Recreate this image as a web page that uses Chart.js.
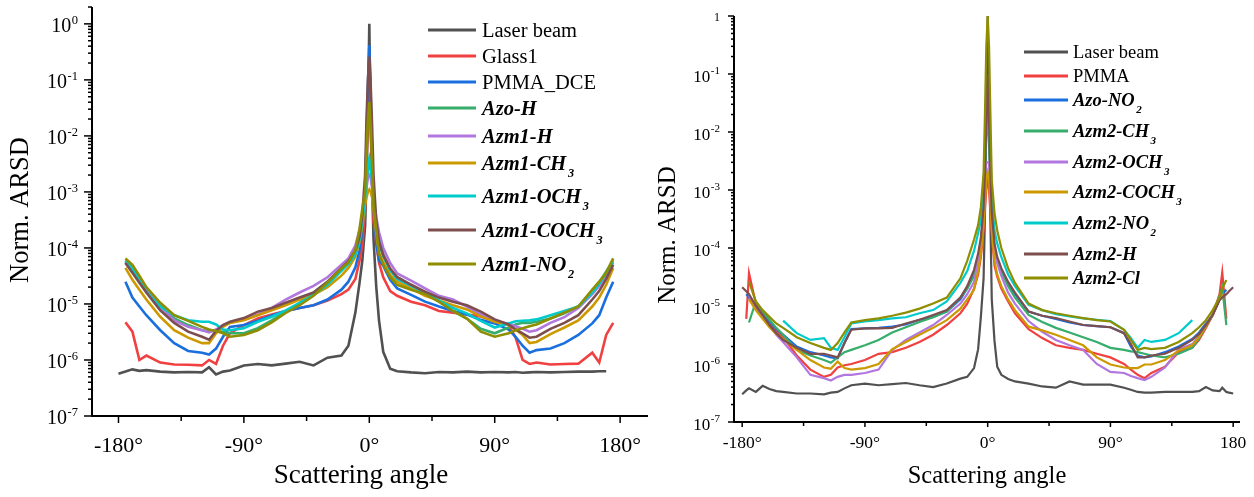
<!DOCTYPE html>
<html>
<head>
<meta charset="utf-8">
<script src="https://cdn.jsdelivr.net/npm/chart.js@4.4.1/dist/chart.umd.min.js"></script>
<style>
  body { margin: 0; background: #fff; }
  #wrap { position: relative; width: 1254px; height: 497px; overflow: hidden; background: #fff; }
  canvas { position: absolute; top: 0; }
  #leftChart { left: 0; }
  #rightChart { left: 640px; }
</style>
</head>
<body>
<div id="wrap">
  <canvas id="leftChart" width="660" height="497"></canvas>
  <canvas id="rightChart" width="614" height="497"></canvas>
</div>
<script>
const SERIF = "'Liberation Serif', 'Times New Roman', serif";
const COLORS = ['#515151', '#F14040', '#1A6FDF', '#37AD6B', '#B177DE', '#CC9900', '#00CBCC', '#7D4E4E', '#8E8E00'];

// ---- left panel: scattering angle (deg) and normalised ARSD ----
const leftAngles = [-180,-175,-170,-165,-160,-150,-140,-130,-120,-115,-110,-105,-100,
  -90,-80,-70,-60,-50,-40,-30,-20,
  -15,-10,-7,-5,-3,-2,-1,
  0,
  1,2,3,5,7,10,15,20,
  30,40,50,60,70,80,90,
  100,105,110,115,120,
  130,140,150,160,165,170,175];
const leftNames = ['Laser beam', 'Glass1', 'PMMA_DCE', 'Azo-H', 'Azm1-H', 'Azm1-CH₃', 'Azm1-OCH₃', 'Azm1-COCH₃', 'Azm1-NO₂'];

const laserL = [5.7e-7, 6.2e-7, 6.8e-7, 6.4e-7, 6.6e-7, 6.2e-7, 6.0e-7, 6.1e-7, 6.0e-7, 7.4e-7, 5.5e-7, 6.2e-7, 6.5e-7,
  8.0e-7, 8.5e-7, 8.0e-7, 8.6e-7, 9.3e-7, 8.0e-7, 1.1e-6, 1.2e-6,
  1.8e-6, 7e-6, 2.4e-5, 6e-5, 2.5e-4, 2e-3, 2e-2,
  1.0,
  1.5e-2, 1.5e-3, 1.5e-4, 2e-5, 5e-6, 1.4e-6, 7e-7, 6.3e-7,
  6.0e-7, 5.8e-7, 6.1e-7, 6.0e-7, 6.2e-7, 6.0e-7, 6.1e-7,
  6.0e-7, 6.1e-7, 5.9e-7, 6.0e-7, 6.1e-7,
  6.0e-7, 6.1e-7, 6.2e-7, 6.2e-7, 6.3e-7, 6.3e-7, null];
const glassL = [null, 4.7e-6, 3.2e-6, 1.0e-6, 1.2e-6, 9.0e-7, 8.3e-7, 8.2e-7, 8.0e-7, 1.0e-6, 8.5e-7, 1.8e-6, 3.0e-6,
  4.2e-6, 5.5e-6, 6.5e-6, 7.5e-6, 8.5e-6, 9.5e-6, 1.15e-5, 1.5e-5,
  1.8e-5, 2.8e-5, 6e-5, 1.1e-4, 5e-4, 3e-3, 3e-2,
  0.3,
  2e-2, 2e-3, 3e-4, 1.2e-4, 5.4e-5, 3e-5, 1.7e-5, 1.4e-5,
  1.1e-5, 9.5e-6, 7.5e-6, 7e-6, 6.5e-6, 6e-6, 5e-6,
  4.2e-6, 2.5e-6, 1.0e-6, 8.5e-7, 9e-7,
  8.3e-7, 8.5e-7, 8.6e-7, 1.35e-6, 9e-7, 2.8e-6, 4.6e-6];
const pmmaDceL = [null, 2.5e-5, 1.3e-5, 9e-6, 6.3e-6, 3.4e-6, 2.0e-6, 1.45e-6, 1.35e-6, 1.25e-6, 1.6e-6, 2.6e-6, 3.9e-6,
  4.2e-6, 5.0e-6, 6.2e-6, 7.5e-6, 8.5e-6, 9.5e-6, 1.2e-5, 1.8e-5,
  2.5e-5, 4.5e-5, 9e-5, 2e-4, 1e-3, 8e-3, 8e-2,
  0.42,
  5e-2, 5e-3, 5e-4, 1.2e-4, 6e-5, 4.8e-5, 2.7e-5, 1.9e-5,
  1.45e-5, 1.1e-5, 9e-6, 7.5e-6, 6.5e-6, 5.2e-6, 4.5e-6,
  3.5e-6, 2.6e-6, 1.8e-6, 1.35e-6, 1.5e-6,
  1.6e-6, 2.0e-6, 2.8e-6, 4.5e-6, 6.3e-6, 1.3e-5, 2.5e-5];
const azoHL = [null, 6e-5, 4.4e-5, 2.8e-5, 1.9e-5, 9.5e-6, 5.5e-6, 4.2e-6, 3.4e-6, 3.3e-6, 3.3e-6, 3.2e-6, 3.0e-6,
  3.0e-6, 3.7e-6, 5.1e-6, 7.3e-6, 1.05e-5, 1.6e-5, 2.5e-5, 4.1e-5,
  5.5e-5, 8e-5, 1.5e-4, 3e-4, 8e-4, 1.5e-3, 2.5e-3,
  3e-3,
  2.5e-3, 1.5e-3, 6e-4, 2.5e-4, 1.2e-4, 7e-5, 4e-5, 3e-5,
  2.2e-5, 1.55e-5, 1.1e-5, 7.5e-6, 5.5e-6, 3.6e-6, 3.0e-6,
  3.8e-6, 4.3e-6, 4.6e-6, 4.6e-6, 4.8e-6,
  5.5e-6, 6.8e-6, 9e-6, 1.7e-5, 2.4e-5, 3.8e-5, 6e-5];
const azm1HL = [null, 5.5e-5, 3.8e-5, 2.6e-5, 1.8e-5, 9e-6, 5.1e-6, 3.9e-6, 3.4e-6, 3.1e-6, 3.5e-6, 4.2e-6, 4.6e-6,
  5.3e-6, 6.5e-6, 8.5e-6, 1.2e-5, 1.6e-5, 2.1e-5, 3e-5, 5e-5,
  6.5e-5, 1.1e-4, 2.1e-4, 3.5e-4, 8e-4, 1.2e-3, 1.8e-3,
  2e-3,
  1.8e-3, 1.2e-3, 7e-4, 3.5e-4, 1.9e-4, 1e-4, 5.4e-5, 3.5e-5,
  2.6e-5, 1.9e-5, 1.4e-5, 1.2e-5, 9e-6, 6.5e-6, 5e-6,
  4.4e-6, 4e-6, 3.6e-6, 3.2e-6, 3.4e-6,
  4.6e-6, 5.8e-6, 8.5e-6, 1.5e-5, 2.1e-5, 3.3e-5, 5.5e-5];
const azm1CH3L = [null, 4.4e-5, 2.7e-5, 1.8e-5, 1.2e-5, 5.9e-6, 3.4e-6, 2.5e-6, 2.0e-6, 2.0e-6, 3.0e-6, 3.9e-6, 4.6e-6,
  5.1e-6, 6.3e-6, 7.7e-6, 9.5e-6, 1.2e-5, 1.45e-5, 2e-5, 3.2e-5,
  4.4e-5, 7e-5, 1.3e-4, 2.5e-4, 6e-4, 8e-4, 1e-3,
  1.1e-3,
  1e-3, 8e-4, 5e-4, 1.8e-4, 8e-5, 5.5e-5, 3.3e-5, 2.5e-5,
  1.9e-5, 1.4e-5, 1.15e-5, 9.5e-6, 8e-6, 6e-6, 4.8e-6,
  4.2e-6, 3.5e-6, 2.8e-6, 2.0e-6, 2.1e-6,
  2.9e-6, 3.8e-6, 5.1e-6, 9e-6, 1.3e-5, 2.2e-5, 4.4e-5];
const azm1OCH3L = [null, 5.8e-5, 4.2e-5, 2.6e-5, 1.65e-5, 9e-6, 6.3e-6, 5.1e-6, 4.8e-6, 4.8e-6, 4.3e-6, 3.5e-6, 3.4e-6,
  3.7e-6, 4.8e-6, 5.9e-6, 7.7e-6, 1.05e-5, 1.45e-5, 2.2e-5, 3.9e-5,
  5.2e-5, 7.6e-5, 1.4e-4, 3e-4, 8e-4, 1.5e-3, 3e-3,
  4e-3,
  3e-3, 1.5e-3, 7e-4, 2.5e-4, 1.3e-4, 7.5e-5, 4e-5, 2.8e-5,
  2.1e-5, 1.6e-5, 1.15e-5, 8.5e-6, 6.8e-6, 5e-6, 3.8e-6,
  4.5e-6, 4.9e-6, 5e-6, 5.1e-6, 5.3e-6,
  6.3e-6, 7.5e-6, 9e-6, 1.6e-5, 2.3e-5, 3.6e-5, 5.5e-5];
const azm1COCH3L = [null, 5.4e-5, 3.6e-5, 2.4e-5, 1.6e-5, 7.7e-6, 4.6e-6, 3.2e-6, 2.6e-6, 2.3e-6, 3.3e-6, 4.2e-6, 4.8e-6,
  5.6e-6, 7.3e-6, 8.5e-6, 1.05e-5, 1.3e-5, 1.6e-5, 2.5e-5, 4.4e-5,
  5.8e-5, 9e-5, 1.6e-4, 4e-4, 2e-3, 2e-2, 0.1,
  0.26,
  8e-2, 1.5e-2, 2e-3, 3e-4, 1.3e-4, 7.5e-5, 4.3e-5, 3e-5,
  2.2e-5, 1.65e-5, 1.3e-5, 1.1e-5, 9.5e-6, 7.3e-6, 5.3e-6,
  4.3e-6, 3.5e-6, 3e-6, 2.5e-6, 2.6e-6,
  3.6e-6, 4.6e-6, 6.3e-6, 1.2e-5, 1.7e-5, 2.8e-5, 5e-5];
const azm1NO2L = [null, 6.5e-5, 5e-5, 3.2e-5, 2e-5, 1.05e-5, 6.3e-6, 5e-6, 3.9e-6, 3.5e-6, 3.3e-6, 3.0e-6, 2.6e-6,
  2.8e-6, 3.4e-6, 4.7e-6, 6.9e-6, 9.5e-6, 1.4e-5, 2.4e-5, 4.3e-5,
  5.5e-5, 9e-5, 2.2e-4, 5e-4, 1e-3, 5e-3, 2e-2,
  4e-2,
  1.5e-2, 3e-3, 6e-4, 2.1e-4, 8e-5, 5e-5, 3e-5, 2.2e-5,
  1.8e-5, 1.5e-5, 1.1e-5, 7.5e-6, 5.5e-6, 3.2e-6, 2.6e-6,
  3.0e-6, 3.4e-6, 3.7e-6, 4e-6, 4.3e-6,
  5.5e-6, 7e-6, 9e-6, 1.8e-5, 2.5e-5, 3.6e-5, 6.5e-5];

// ---- right panel ----
const rightAngles = [-180,-177,-175,-170,-165,-160,-155,-150,
  -140,-130,-120,-115,-110,-105,-100,
  -90,-80,-70,-60,-50,-40,-30,-20,
  -15,-10,-7,-5,-3,-2,-1,
  0,
  1,2,3,5,7,10,15,20,
  30,40,50,60,70,80,90,
  100,105,110,115,120,
  130,140,150,155,160,165,170,172,175,177,180];
const rightNames = ['Laser beam', 'PMMA', 'Azo-NO₂', 'Azm2-CH₃', 'Azm2-OCH₃', 'Azm2-COCH₃', 'Azm2-NO₂', 'Azm2-H', 'Azm2-Cl'];

const laserR = [3.0e-7, 3.5e-7, 3.8e-7, 3.3e-7, 4.2e-7, 3.7e-7, 3.4e-7, 3.3e-7,
  3.1e-7, 3.1e-7, 3.0e-7, 3.2e-7, 3.3e-7, 3.8e-7, 4.3e-7,
  4.6e-7, 4.3e-7, 4.5e-7, 4.7e-7, 4.3e-7, 4.0e-7, 4.6e-7, 5.6e-7,
  6e-7, 8.5e-7, 1.8e-6, 6.5e-6, 3e-5, 3.5e-4, 2e-2,
  1.0,
  2e-2, 3e-4, 1.3e-5, 2.5e-6, 9e-7, 6.5e-7, 5.5e-7, 5e-7,
  4.6e-7, 4.1e-7, 3.9e-7, 5e-7, 4.4e-7, 4.4e-7, 4.4e-7,
  3.9e-7, 3.6e-7, 3.3e-7, 3.2e-7, 3.2e-7,
  3.3e-7, 3.3e-7, 3.3e-7, 3.4e-7, 4.0e-7, 3.5e-7, 3.4e-7, 3.9e-7, 3.3e-7, 3.2e-7, 3.1e-7];
const pmmaR = [null, 6e-6, 3.7e-5, 1.1e-5, 7e-6, 5e-6, 3.8e-6, 2.9e-6,
  1.4e-6, 8e-7, 6e-7, 6.5e-7, 8.7e-7, 9.5e-7, 1e-6,
  1.17e-6, 1.5e-6, 1.6e-6, 1.9e-6, 2.4e-6, 3.2e-6, 4.7e-6, 7.5e-6,
  1.1e-5, 2e-5, 3.5e-5, 7e-5, 2e-4, 5e-4, 1e-3,
  2e-3,
  1e-3, 4e-4, 1.8e-4, 5e-5, 3.2e-5, 2e-5, 1.2e-5, 7.5e-6,
  4e-6, 2.8e-6, 2.1e-6, 1.9e-6, 1.75e-6, 1.5e-6, 1.3e-6,
  1e-6, 8e-7, 6.5e-7, 5.7e-7, 7e-7,
  9e-7, 1.6e-6, 1.9e-6, 2.6e-6, 4.2e-6, 7e-6, 1.6e-5, 3.8e-5, 6e-6, null, null];
const azoNO2R = [null, 1.6e-5, 1.4e-5, 9e-6, 7e-6, 5.5e-6, 4e-6, 3.2e-6,
  2e-6, 1.6e-6, 1.4e-6, 1.3e-6, 1.25e-6, 2.3e-6, 4e-6,
  4.1e-6, 4.2e-6, 4.4e-6, 4.8e-6, 5.8e-6, 6.5e-6, 8e-6, 1.3e-5,
  2e-5, 3.5e-5, 7e-5, 1.3e-4, 4e-4, 2e-3, 1e-2,
  5e-2,
  1e-2, 2e-3, 3.5e-4, 1e-4, 6e-5, 4e-5, 2.4e-5, 1.6e-5,
  8e-6, 6.8e-6, 6e-6, 5.2e-6, 4.7e-6, 4.5e-6, 4.3e-6,
  3.4e-6, 2e-6, 1.4e-6, 1.3e-6, 1.35e-6,
  1.6e-6, 2e-6, 2.7e-6, 3.5e-6, 5e-6, 7e-6, 1.3e-5, 1.6e-5, 1.9e-5, null, null];
const azm2CH3R = [null, null, 5.2e-6, 1.2e-5, 8e-6, 5.8e-6, 4.2e-6, 3.2e-6,
  1.75e-6, 1.4e-6, 1.17e-6, 1.05e-6, 1.3e-6, 1.6e-6, 1.75e-6,
  2.1e-6, 2.6e-6, 3.5e-6, 4.3e-6, 5.3e-6, 6.4e-6, 8e-6, 1.4e-5,
  2e-5, 3.3e-5, 6.5e-5, 1.2e-4, 4e-4, 1.5e-3, 8e-3,
  2e-2,
  8e-3, 1.5e-3, 3.5e-4, 1e-4, 6e-5, 3.8e-5, 2.2e-5, 1.4e-5,
  7e-6, 5.3e-6, 4.2e-6, 3.5e-6, 2.9e-6, 2.4e-6, 1.9e-6,
  1.75e-6, 1.65e-6, 1.6e-6, 1.5e-6, 1.4e-6,
  1.3e-6, 1.5e-6, 1.9e-6, 2.8e-6, 4.5e-6, 7e-6, 1.5e-5, 2.1e-5, 4.7e-6, null, null];
const azm2OCH3R = [null, null, 1.5e-5, 9e-6, 6.5e-6, 4.6e-6, 3.2e-6, 2.4e-6,
  1.3e-6, 6.5e-7, 5.7e-7, 5.2e-7, 6e-7, 6.5e-7, 6.5e-7,
  7e-7, 8e-7, 1.75e-6, 2.6e-6, 3.5e-6, 4.7e-6, 7e-6, 1.1e-5,
  1.6e-5, 2.6e-5, 6e-5, 1.2e-4, 4e-4, 1.5e-3, 3e-3,
  3e-3,
  3e-3, 1.2e-3, 3e-4, 9e-5, 5.5e-5, 3.3e-5, 1.7e-5, 1.1e-5,
  5.5e-6, 3.6e-6, 2.6e-6, 2.1e-6, 1.75e-6, 1e-6, 7.3e-7,
  7e-7, 6.2e-7, 5.7e-7, 5.3e-7, 6e-7,
  8.7e-7, 1.8e-6, 2.2e-6, 3e-6, 4.7e-6, 7e-6, 1.4e-5, 1.6e-5, null, null, null];
const azm2COCH3R = [null, null, 1.3e-5, 8.5e-6, 6e-6, 4.3e-6, 3.3e-6, 2.7e-6,
  1.75e-6, 1.17e-6, 8.7e-7, 8.3e-7, 1.1e-6, 8.5e-7, 8e-7,
  8.5e-7, 1e-6, 1.8e-6, 2.4e-6, 3.2e-6, 4.2e-6, 5.7e-6, 9e-6,
  1.3e-5, 1.9e-5, 4e-5, 8e-5, 2.5e-4, 6e-4, 1.5e-3,
  2e-3,
  1.5e-3, 6e-4, 2e-4, 6e-5, 3.5e-5, 2.2e-5, 1.3e-5, 8.5e-6,
  4.4e-6, 3.8e-6, 3.2e-6, 2.6e-6, 2.1e-6, 1.3e-6, 9.8e-7,
  8.7e-7, 8.5e-7, 8.5e-7, 9.8e-7, 9.8e-7,
  1.17e-6, 1.7e-6, 2.1e-6, 2.9e-6, 4.5e-6, 7e-6, 1.3e-5, 1.6e-5, null, null, null];
const azm2NO2R = [null, null, null, null, null, null, null, 5.6e-6,
  3.4e-6, 2.6e-6, 2.8e-6, 1.9e-6, 1.75e-6, 2.9e-6, 5e-6,
  5.4e-6, 5.7e-6, 6.1e-6, 6.4e-6, 7.5e-6, 8.5e-6, 1.2e-5, 2.5e-5,
  4e-5, 9e-5, 1.8e-4, 3e-4, 1e-3, 5e-3, 1e-2,
  1.2e-2,
  1e-2, 5e-3, 8e-4, 2e-4, 1.2e-4, 7e-5, 3.5e-5, 2.2e-5,
  1.05e-5, 8.5e-6, 7.2e-6, 6.6e-6, 6.1e-6, 5.8e-6, 5.5e-6,
  3.9e-6, 2.8e-6, 1.9e-6, 2.6e-6, 2.4e-6,
  2.6e-6, 3.4e-6, 5.7e-6, null, null, null, null, null, null, null, null];
const azm2HR = [2.1e-5, 1.8e-5, 1.6e-5, 1e-5, 7e-6, 4.7e-6, 3.4e-6, 2.6e-6,
  1.9e-6, 1.5e-6, 1.5e-6, 1.4e-6, 1.3e-6, 2.3e-6, 3.9e-6,
  4.1e-6, 4.1e-6, 4.2e-6, 5e-6, 5.8e-6, 7e-6, 8.5e-6, 1.4e-5,
  2.2e-5, 4.2e-5, 8e-5, 1.5e-4, 5e-4, 2e-3, 1.5e-2,
  0.1,
  1.5e-2, 2e-3, 4e-4, 1.2e-4, 7e-5, 4.5e-5, 2.6e-5, 1.7e-5,
  8e-6, 6.8e-6, 6.2e-6, 5.4e-6, 4.7e-6, 4.5e-6, 4.3e-6,
  3.4e-6, 2.2e-6, 1.3e-6, 1.3e-6, 1.4e-6,
  1.5e-6, 1.9e-6, 2.6e-6, 3.3e-6, 4.7e-6, 7e-6, 1.26e-5, 1.4e-5, 1.6e-5, 1.8e-5, 2.1e-5];
const azm2ClR = [null, null, 2.6e-5, 1.2e-5, 8.5e-6, 6.5e-6, 5e-6, 4.2e-6,
  2.9e-6, 2.3e-6, 1.9e-6, 1.75e-6, 2.3e-6, 3.5e-6, 5.2e-6,
  5.7e-6, 6.1e-6, 6.8e-6, 7.7e-6, 9e-6, 1.1e-5, 1.4e-5, 3e-5,
  6e-5, 1.4e-4, 2.5e-4, 5e-4, 2e-3, 2e-2, 0.3,
  1.0,
  0.3, 2e-2, 1.5e-3, 4e-4, 2e-4, 1e-4, 4.5e-5, 2.5e-5,
  1.1e-5, 8.5e-6, 7.5e-6, 6.8e-6, 6.2e-6, 5.7e-6, 5.4e-6,
  3.9e-6, 2.6e-6, 1.75e-6, 1.9e-6, 1.8e-6,
  1.9e-6, 2.4e-6, 3.4e-6, 4.3e-6, 5.7e-6, 8.5e-6, 1.4e-5, 2e-5, 2.8e-5, null, null];

// axis ticks
const xMajorTicks = [-180, -90, 0, 90, 180];
const xMinorTicks = [-135, -45, 45, 135];
const leftXLabels = ['-180°', '-90°', '0°', '90°', '180°'];
const rightXLabels = ['-180°', '-90°', '0°', '90°', '180'];
const yDecades = [1e-7, 1e-6, 1e-5, 1e-4, 1e-3, 1e-2, 1e-1, 1];
const yExponents = ['-7', '-6', '-5', '-4', '-3', '-2', '-1', '0'];

function buildDatasets(angles, names, series, width) {
  return series.map((vals, i) => ({
    label: names[i],
    data: angles.map((a, k) => ({ x: a, y: vals[k] })),
    borderColor: COLORS[i],
    borderWidth: width,
    pointRadius: 0,
    tension: 0,
    fill: false,
    spanGaps: false,
    order: series.length - i
  }));
}

// text with subscript digits (₀-₉) drawn smaller and lowered
function richText(ctx, text, x, y, size, emph) {
  const style = emph ? 'italic bold ' : '';
  text.split(/([₀-₉]+)/).forEach(part => {
    if (!part) return;
    if (/[₀-₉]/.test(part)) {
      const s = part.replace(/[₀-₉]/g, c => String.fromCharCode(c.charCodeAt(0) - 0x2080 + 48));
      ctx.font = style + (size * 0.6) + 'px ' + SERIF;
      x += size * 0.08;
      ctx.fillText(s, x, y + size * 0.36);
      x += ctx.measureText(s).width;
    } else {
      ctx.font = style + size + 'px ' + SERIF;
      ctx.fillText(part, x, y);
      x += ctx.measureText(part).width;
    }
  });
}

const framePlugin = {
  id: 'frame',
  afterDraw(chart, args, o) {
    const ctx = chart.ctx;
    const xs = chart.scales.x, ys = chart.scales.y;
    const a = chart.chartArea;
    ctx.save();
    ctx.strokeStyle = '#000';
    ctx.fillStyle = '#000';
    ctx.lineCap = 'butt';

    // axis lines
    ctx.lineWidth = o.axisWidth;
    ctx.beginPath();
    ctx.moveTo(a.left, a.top);
    ctx.lineTo(a.left, a.bottom);
    ctx.lineTo(a.right, a.bottom);
    ctx.stroke();

    // x ticks and labels
    ctx.lineWidth = o.tickWidth;
    xMinorTicks.forEach(v => {
      const px = xs.getPixelForValue(v);
      ctx.beginPath(); ctx.moveTo(px, a.bottom); ctx.lineTo(px, a.bottom + o.xMinorLen); ctx.stroke();
    });
    ctx.font = o.xFont + 'px ' + SERIF;
    ctx.textAlign = 'center';
    ctx.textBaseline = 'alphabetic';
    xMajorTicks.forEach((v, i) => {
      const px = xs.getPixelForValue(v);
      ctx.beginPath(); ctx.moveTo(px, a.bottom); ctx.lineTo(px, a.bottom + o.xMajorLen); ctx.stroke();
      ctx.fillText(o.xLabels[i], px, o.xLabelY);
    });

    // y ticks: decades with 2..9 minor ticks
    yDecades.forEach((d, i) => {
      const py = ys.getPixelForValue(d);
      ctx.beginPath(); ctx.moveTo(a.left - o.yMajorLen, py); ctx.lineTo(a.left, py); ctx.stroke();
      for (let m = 2; m <= 9; m++) {
        if (m * d > ys.max) break;
        const pm = ys.getPixelForValue(m * d);
        ctx.beginPath(); ctx.moveTo(a.left - o.yMinorLen, pm); ctx.lineTo(a.left, pm); ctx.stroke();
      }
      const right = a.left - o.yLabelGap;
      ctx.textAlign = 'right';
      if (o.plainOne && d === 1) {
        ctx.font = o.oneFont + 'px ' + SERIF;
        ctx.fillText('1', right, py + o.oneOff);
      } else {
        ctx.font = o.ySupFont + 'px ' + SERIF;
        const exp = yExponents[i];
        ctx.fillText(exp, right, py + o.ySupOff);
        const ew = ctx.measureText(exp).width;
        ctx.font = o.yFont + 'px ' + SERIF;
        ctx.fillText('10', right - ew - 0.5, py + o.yBaseOff);
      }
    });

    // axis titles
    ctx.textAlign = 'center';
    ctx.font = o.xTitle.size + 'px ' + SERIF;
    ctx.fillText('Scattering angle', o.xTitle.x, o.xTitle.y);
    ctx.save();
    ctx.translate(o.yTitle.x, o.yTitle.y);
    ctx.rotate(-Math.PI / 2);
    ctx.textBaseline = 'middle';
    ctx.font = o.yTitle.size + 'px ' + SERIF;
    ctx.fillText('Norm. ARSD', 0, 0);
    ctx.restore();

    // legend
    const L = o.legend;
    ctx.textAlign = 'left';
    chart.data.datasets.forEach((ds, i) => {
      const y = L.rows[i];
      ctx.strokeStyle = ds.borderColor;
      ctx.lineWidth = L.lineWidth;
      ctx.beginPath(); ctx.moveTo(L.x0, y); ctx.lineTo(L.x1, y); ctx.stroke();
      ctx.fillStyle = '#000';
      richText(ctx, ds.label, L.textX, y + L.baseOff, L.size, /^Az/.test(ds.label));
    });
    ctx.restore();
  }
};

function makeChart(id, angles, names, series, lineW, xr, yMax, pad, xH, yW, frame) {
  return new Chart(document.getElementById(id), {
    type: 'line',
    data: { datasets: buildDatasets(angles, names, series, lineW) },
    options: {
      responsive: false,
      animation: false,
      devicePixelRatio: 1,
      layout: { padding: pad },
      plugins: { legend: { display: false }, tooltip: { enabled: false }, frame: frame },
      scales: {
        x: {
          type: 'linear', min: xr[0], max: xr[1],
          grid: { display: false }, border: { display: false }, ticks: { display: false },
          afterFit(s) { s.height = xH; }
        },
        y: {
          type: 'logarithmic', min: 1e-7, max: yMax,
          grid: { display: false }, border: { display: false }, ticks: { display: false },
          afterFit(s) { s.width = yW; }
        }
      }
    },
    plugins: [framePlugin]
  });
}

makeChart('leftChart', leftAngles, leftNames,
  [laserL, glassL, pmmaDceL, azoHL, azm1HL, azm1CH3L, azm1OCH3L, azm1COCH3L, azm1NO2L],
  2.6, [-199, 200], 2, { left: 0, top: 7, right: 12, bottom: 0 }, 81, 92, {
    axisWidth: 2, tickWidth: 1.5,
    xLabels: leftXLabels, xFont: 22, xLabelY: 452, xMajorLen: 7, xMinorLen: 5,
    yMajorLen: 8, yMinorLen: 4, yLabelGap: 14, yFont: 20, ySupFont: 12.5, yBaseOff: 8, ySupOff: 0,
    plainOne: false,
    xTitle: { x: 361, y: 483, size: 27 },
    yTitle: { x: 21, y: 210, size: 26.5 },
    legend: { x0: 428, x1: 476, textX: 482, lineWidth: 3, size: 20.5, baseOff: 7,
      rows: [30, 56, 82, 108, 136, 163, 196, 230, 264] }
  });

makeChart('rightChart', rightAngles, rightNames,
  [laserR, pmmaR, azoNO2R, azm2CH3R, azm2OCH3R, azm2COCH3R, azm2NO2R, azm2HR, azm2ClR],
  2.2, [-186, 185], 1, { left: 0, top: 16, right: 14, bottom: 0 }, 75, 94, {
    axisWidth: 2, tickWidth: 1.5,
    xLabels: rightXLabels, xFont: 17.5, xLabelY: 448, xMajorLen: 5, xMinorLen: 4,
    yMajorLen: 6, yMinorLen: 3, yLabelGap: 14, yFont: 17, ySupFont: 11, yBaseOff: 8, ySupOff: 0,
    plainOne: true, oneFont: 12, oneOff: 5,
    xTitle: { x: 347, y: 483, size: 24.5 },
    yTitle: { x: 28, y: 235, size: 25 },
    legend: { x0: 384, x1: 428, textX: 433, lineWidth: 3, size: 18.5, baseOff: 6,
      rows: [52, 76, 100, 131, 162, 192, 223, 254, 278] }
  });
</script>
</body>
</html>
